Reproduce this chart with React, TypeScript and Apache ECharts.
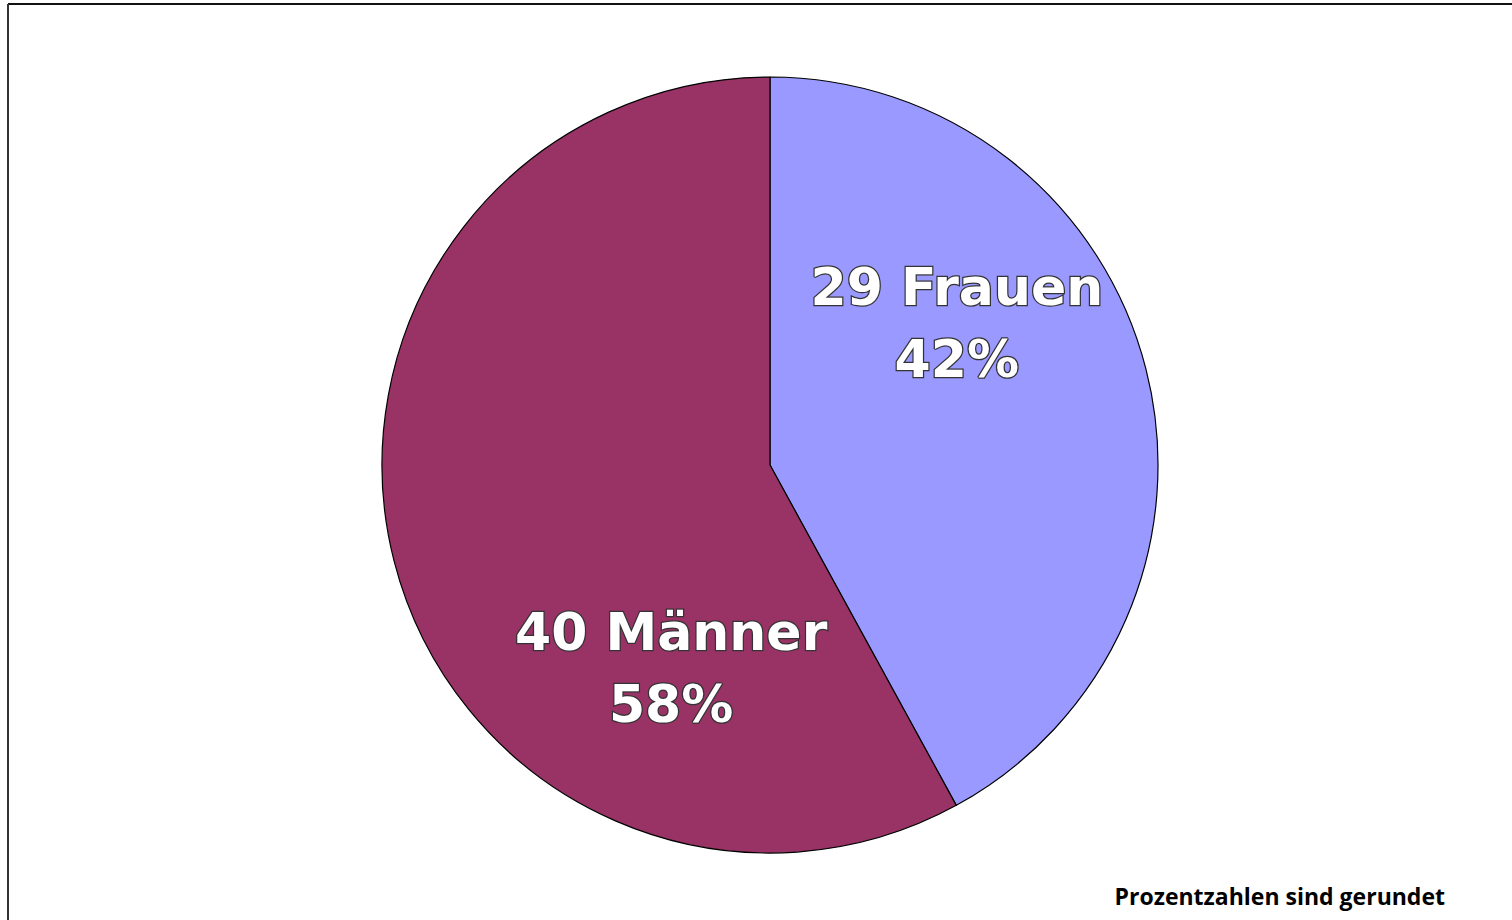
import React, { useEffect, useRef } from "react";
import * as echarts from "echarts";

const categories = ["Frauen", "Männer"];
const values = [29, 40];
const colors = ["#9999FF", "#993366"];
const footnote = "Prozentzahlen sind gerundet";

export default function App() {
  const ref = useRef<HTMLDivElement>(null);
  useEffect(() => {
    if (!ref.current) return;
    const chart = echarts.init(ref.current, null, { renderer: "svg" });
    const labelOffsets = [
      [-4, -93],
      [92, 154],
    ];
    chart.setOption({
      animation: false,
      backgroundColor: "#ffffff",
      graphic: [
        { type: "line", shape: { x1: 8, y1: 4, x2: 1512, y2: 4 }, style: { stroke: "#111", lineWidth: 2 } },
        { type: "line", shape: { x1: 8, y1: 4, x2: 8, y2: 920 }, style: { stroke: "#333", lineWidth: 2 } },
        {
          type: "text",
          right: 67,
          top: 884,
          style: {
            text: footnote,
            fontFamily: "Open Sans",
            fontWeight: "bold",
            fontSize: 23,
            fill: "#000",
          },
        },
      ],
      series: [
        {
          type: "pie",
          center: [770, 465],
          radius: 388,
          startAngle: 90,
          clockwise: true,
          percentPrecision: 0,
          itemStyle: { borderColor: "#000", borderWidth: 1.2 },
          emphasis: { disabled: true },
          labelLine: { show: false },
          data: categories.map((c, i) => ({
            name: c,
            value: values[i],
            itemStyle: { color: colors[i] },
            label: { offset: labelOffsets[i] },
          })),
          label: {
            show: true,
            position: "inside",
            formatter: (p: any) => `${p.value} ${p.name}\n${p.percent}%`,
            color: "#fff",
            textBorderColor: "#333",
            textBorderWidth: 2.5,
            fontFamily: "DejaVu Sans",
            fontWeight: "bold",
            fontSize: 52,
            lineHeight: 72,
            align: "center",
          },
        },
      ],
    });
    return () => chart.dispose();
  }, []);
  return (
    <div
      ref={ref}
      style={{ position: "fixed", left: 0, top: 0, width: 1512, height: 920 }}
    />
  );
}
